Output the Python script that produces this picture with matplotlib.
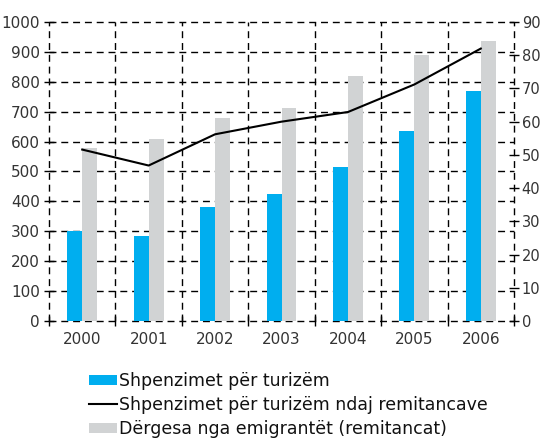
import matplotlib
matplotlib.use("Agg")
import matplotlib.pyplot as plt
import numpy as np
from matplotlib.patches import Patch
from matplotlib.lines import Line2D

years = ["2000", "2001", "2002", "2003", "2004", "2005", "2006"]
tourism = [300, 284, 381, 425, 515, 635, 769]
remittances = [579, 609, 679, 712, 819, 890, 936]
ratio = [51.6, 46.8, 56.2, 60.0, 62.9, 71.2, 82.0]

left_ticks = list(range(0, 1001, 100))
right_ticks = list(range(0, 91, 10))

blue = "#00AEEF"
grey = "#D1D3D4"
txt = "#333333"
dash = (0, (5, 3.5))

plt.rcParams['font.family'] = ['DejaVu Sans']

fig = plt.figure(figsize=(5.43, 4.42), dpi=100)
ax = fig.add_axes([49/543, 1-321/442, (514-49)/543, (321-22)/442])
x = np.arange(len(years))
w = 0.225
ax.bar(x - w/2, tourism, width=w, color=blue, zorder=2)
ax.bar(x + w/2, remittances, width=w, color=grey, zorder=2)
ax.set_xlim(-0.5, len(years) - 0.5)
ax.set_ylim(0, 1000)
ax.set_yticks(left_ticks)
ax.set_xticks(x)
ax.set_xticklabels(years)
ax.set_xticks(np.arange(-0.5, len(years), 1.0), minor=True)
ax.tick_params(axis='x', which='major', length=0, pad=8, labelsize=11, labelcolor=txt)
ax.tick_params(axis='x', which='minor', direction='inout', length=7, width=1)
ax.tick_params(axis='y', direction='inout', length=7, width=1, labelsize=11, labelcolor=txt, pad=3)
for s in ax.spines.values():
    s.set_visible(False)
for v in left_ticks:
    ax.axhline(v, color='black', lw=1, linestyle=dash, zorder=1, clip_on=False)
for v in np.arange(-0.5, len(years), 1.0):
    ax.axvline(v, color='black', lw=1, linestyle=dash, zorder=1, clip_on=False)

ax2 = ax.twinx()
ax2.plot(x, ratio, color='black', lw=1.5, zorder=3)
ax2.set_ylim(0, 90)
ax2.set_yticks(right_ticks)
ax2.tick_params(axis='y', direction='inout', length=7, width=1, labelsize=10.5, labelcolor=txt, pad=2)
for s in ax2.spines.values():
    s.set_visible(False)

handles = [
    Patch(facecolor=blue, edgecolor='none'),
    Line2D([0], [0], color='black', lw=1.5),
    Patch(facecolor=grey, edgecolor='none'),
]
labels = [
    "Shpenzimet për turizëm",
    "Shpenzimet për turizëm ndaj remitancave",
    "Dërgesa nga emigrantët (remitancat)",
]
fig.legend(handles, labels, loc='upper left', bbox_to_anchor=(89/543, 1-372/442),
           frameon=False, fontsize=12.5, handlelength=1.6, handleheight=0.55,
           handletextpad=0.1, labelspacing=0.35, borderaxespad=0, borderpad=0,
           labelcolor='#111111')

fig.savefig("out.png", dpi=100)
